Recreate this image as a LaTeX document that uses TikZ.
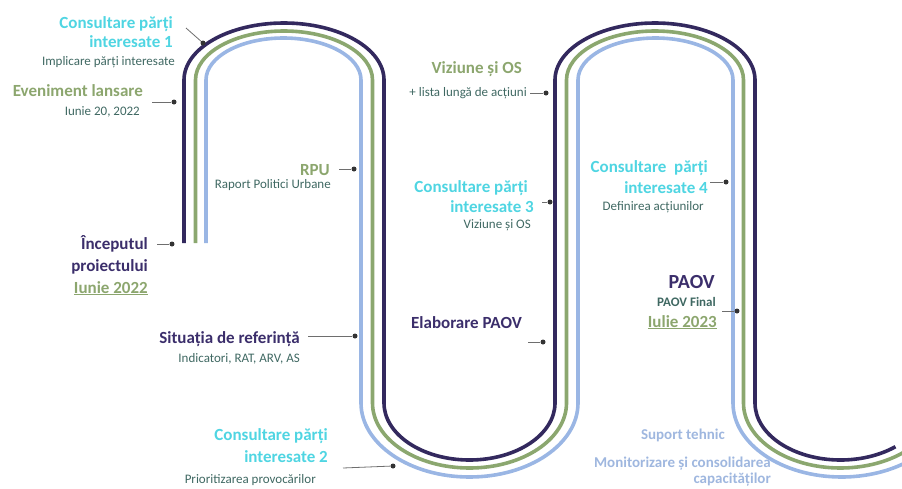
\documentclass[tikz,border=0pt]{standalone}
\usepackage{fontspec}
\setmainfont{Carlito}
\definecolor{trackpurple}{HTML}{33295E}
\definecolor{trackgreen}{HTML}{8BA76F}
\definecolor{trackblue}{HTML}{9AB6E4}
\definecolor{headcyan}{HTML}{4FD5E2}
\definecolor{headgreen}{HTML}{8CA66E}
\definecolor{headpurple}{HTML}{3B2E6B}
\definecolor{subteal}{HTML}{3F6862}
\definecolor{helpblue}{HTML}{9FB7DF}
\definecolor{dotgray}{HTML}{333333}
\definecolor{tickgray}{HTML}{6E6E6E}

\begin{document}
\begin{tikzpicture}[x=1pt,y=-1pt,
  track/.style={line width=3.6pt},
  head/.style={font=\fontsize{17}{20}\selectfont\bfseries,anchor=base east,inner sep=0pt},
  sub/.style={font=\fontsize{13}{15}\selectfont,anchor=base east,inner sep=0pt,text=subteal},
  help/.style={font=\fontsize{15}{18}\selectfont\bfseries,anchor=base east,inner sep=0pt,text=helpblue},
  dot/.style={circle,fill=dotgray,inner sep=0pt,minimum size=5pt},
  tick/.style={draw=tickgray,line width=0.8pt}]

  % Fix the page size
  \useasboundingbox (0,0) rectangle (902,488);

  % Draw the purple track (outer on the arches)
  \draw[track,draw=trackpurple] (184,243) -- (184,80)
    arc[start angle=180,end angle=360,x radius=100,y radius=57] -- (384,403)
    arc[start angle=180,end angle=0,x radius=85.5,y radius=57] -- (555,80)
    arc[start angle=180,end angle=360,x radius=100,y radius=57] -- (755,403)
    arc[start angle=180,end angle=50,x radius=85.5,y radius=57];

  % Draw the green track (middle)
  \draw[track,draw=trackgreen] (195.5,243) -- (195.5,80)
    arc[start angle=180,end angle=360,x radius=88.5,y radius=49] -- (372.5,403)
    arc[start angle=180,end angle=0,x radius=97,y radius=65] -- (566.5,80)
    arc[start angle=180,end angle=360,x radius=88.5,y radius=49] -- (743.5,403)
    arc[start angle=180,end angle=40,x radius=97,y radius=65];

  % Draw the blue track (inner on the arches)
  \draw[track,draw=trackblue] (206,243) -- (206,80)
    arc[start angle=180,end angle=360,x radius=77.5,y radius=42] -- (361,403)
    arc[start angle=180,end angle=0,x radius=108.5,y radius=74] -- (578,80)
    arc[start angle=180,end angle=360,x radius=77.5,y radius=42] -- (733,403)
    arc[start angle=180,end angle=40,x radius=108.5,y radius=74];

  % Draw the milestone dots and their ticks
  \foreach \n/\tx/\ty/\dx/\dy in {1/186/28/203/43, 2/152/102/174/102, 3/157/244/172/244,
      4/339/169/354/169, 5/308/336/355/336, 6/343/468/393/466, 7/530/93/546/93,
      8/542/202/550/202, 9/528/342/543/342, 10/710/182/726/182, 11/722/311/737/311} {
    \coordinate (t\n) at (\tx,\ty);
    \node[dot] (d\n) at (\dx,\dy) {};
    \draw[tick] (t\n) -- (d\n);
  }

  % Consultare parti interesate 1
  \node[head,text=headcyan] (cons1a) at (173,28) {Consultare părți};
  \node[head,text=headcyan] (cons1b) at (173,47) {interesate 1};
  \node[sub] (cons1s) at (175,65) {Implicare părți interesate};

  % Eveniment lansare
  \node[head,text=headgreen] (lans) at (143,96) {Eveniment lansare};
  \node[sub] (lanss) at (140,115) {Iunie 20, 2022};

  % Inceputul proiectului
  \node[head,text=headpurple] (start1) at (148,249) {Începutul};
  \node[head,text=headpurple] (start2) at (148,271) {proiectului};
  \node[head,text=headgreen] (startd) at (148,293) {\underline{Iunie 2022}};

  % RPU
  \node[head,text=headgreen] (rpu) at (330,175) {RPU};
  \node[sub] (rpus) at (331,188) {Raport Politici Urbane};

  % Situatia de referinta
  \node[head,text=headpurple] (sit) at (300,343) {Situația de referință};
  \node[sub] (sits) at (300,362) {Indicatori, RAT, ARV, AS};

  % Consultare parti interesate 2
  \node[head,text=headcyan] (cons2a) at (328,440) {Consultare părți};
  \node[head,text=headcyan] (cons2b) at (328,462) {interesate 2};
  \node[sub] (cons2s) at (316,483) {Prioritizarea provocărilor};

  % Viziune si OS
  \node[head,text=headgreen] (viz) at (522,73) {Viziune și OS};
  \node[sub] (vizs) at (527,96) {+ lista lungă de acțiuni};

  % Consultare parti interesate 3
  \node[head,text=headcyan] (cons3a) at (528,192) {Consultare părți};
  \node[head,text=headcyan] (cons3b) at (534,212) {interesate 3};
  \node[sub] (cons3s) at (531,228) {Viziune și OS};

  % Elaborare PAOV
  \node[head,text=headpurple] (elab) at (522,328) {Elaborare PAOV};

  % Consultare parti interesate 4
  \node[head,text=headcyan] (cons4a) at (708,172) {Consultare~ părți};
  \node[head,text=headcyan] (cons4b) at (708,193) {interesate 4};
  \node[sub] (cons4s) at (704,210) {Definirea acțiunilor};

  % PAOV final
  \node[head,text=headpurple,font=\fontsize{20}{24}\selectfont\bfseries] (paov) at (715,288) {PAOV};
  \node[sub,font=\fontsize{13}{15}\selectfont\bfseries] (paovs) at (716,306) {PAOV Final};
  \node[head,text=headgreen] (paovd) at (717,327) {\underline{Iulie 2023}};

  % Suport tehnic
  \node[help] (sup) at (725,439) {Suport tehnic};
  \node[help] (mon1) at (771,467) {Monitorizare și consolidarea};
  \node[help] (mon2) at (771,483) {capacităților};
\end{tikzpicture}
\end{document}
